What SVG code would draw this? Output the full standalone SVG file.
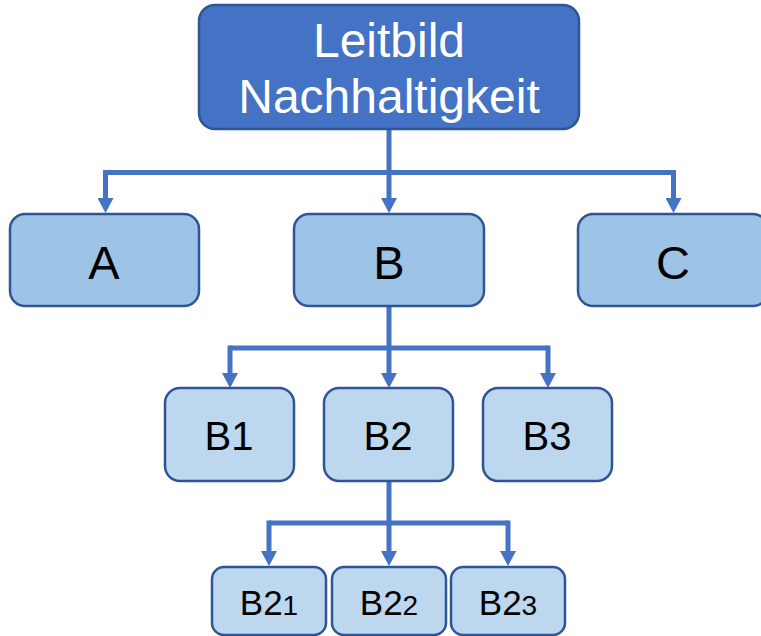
<svg xmlns="http://www.w3.org/2000/svg" width="761" height="636" viewBox="0 0 761 636">
<style>
.box{stroke:#2F5597;stroke-width:2.5}
.top{fill:#4472C4}
.l2{fill:#9DC3E6}
.l3{fill:#BDD7EE}
.t{font-family:"Liberation Sans",Arial,sans-serif;text-anchor:middle;fill:#000}
.w{fill:#fff}
.c{fill:none;stroke:#4472C4;stroke-width:5}
</style>
<defs>
<marker id="ah" markerUnits="userSpaceOnUse" viewBox="0 0 15 16" refX="1" refY="8" markerWidth="15" markerHeight="16" orient="auto">
<path d="M0,0 L15,8 L0,16 z" fill="#4472C4"/>
</marker>
</defs>
<g id="connectors">
<path class="c" d="M389,130 V199" marker-end="url(#ah)"/>
<path class="c" d="M105.5,172.5 H673.5"/>
<path class="c" d="M105.5,170 V199" marker-end="url(#ah)"/>
<path class="c" d="M673.5,170 V199" marker-end="url(#ah)"/>
<path class="c" d="M389,306 V374" marker-end="url(#ah)"/>
<path class="c" d="M230,348 H548"/>
<path class="c" d="M230,345.5 V374" marker-end="url(#ah)"/>
<path class="c" d="M548,345.5 V374" marker-end="url(#ah)"/>
<path class="c" d="M389,481 V552" marker-end="url(#ah)"/>
<path class="c" d="M269,523 H508"/>
<path class="c" d="M269,520.5 V552" marker-end="url(#ah)"/>
<path class="c" d="M508,520.5 V552" marker-end="url(#ah)"/>
</g>
<g id="root">
<rect class="box top" x="199" y="5" width="380" height="124" rx="16"/>
<text class="t w" x="389" y="57" font-size="48">Leitbild</text>
<text class="t w" x="389" y="113" font-size="48">Nachhaltigkeit</text>
</g>
<g id="A">
<rect class="box l2" x="10" y="214" width="189" height="92" rx="15"/>
<text class="t" x="104" y="279" font-size="47">A</text>
</g>
<g id="B">
<rect class="box l2" x="294" y="214" width="190" height="92" rx="15"/>
<text class="t" x="389" y="279" font-size="47">B</text>
</g>
<g id="C">
<rect class="box l2" x="578" y="214" width="190" height="92" rx="15"/>
<text class="t" x="673" y="279" font-size="47">C</text>
</g>
<g id="B1">
<rect class="box l3" x="165" y="388" width="129" height="93" rx="15"/>
<text class="t" x="229" y="450" font-size="40">B1</text>
</g>
<g id="B2">
<rect class="box l3" x="324" y="388" width="129" height="93" rx="15"/>
<text class="t" x="388" y="450" font-size="40">B2</text>
</g>
<g id="B3">
<rect class="box l3" x="483" y="388" width="129" height="93" rx="15"/>
<text class="t" x="547" y="450" font-size="40">B3</text>
</g>
<g id="B21">
<rect class="box l3" x="212" y="567" width="114" height="68" rx="12"/>
<text class="t" x="269" y="615" font-size="35">B2<tspan font-size="28">1</tspan></text>
</g>
<g id="B22">
<rect class="box l3" x="332" y="567" width="114" height="68" rx="12"/>
<text class="t" x="389" y="615" font-size="35">B2<tspan font-size="28">2</tspan></text>
</g>
<g id="B23">
<rect class="box l3" x="451" y="567" width="114" height="68" rx="12"/>
<text class="t" x="508" y="615" font-size="35">B2<tspan font-size="28">3</tspan></text>
</g>
</svg>
